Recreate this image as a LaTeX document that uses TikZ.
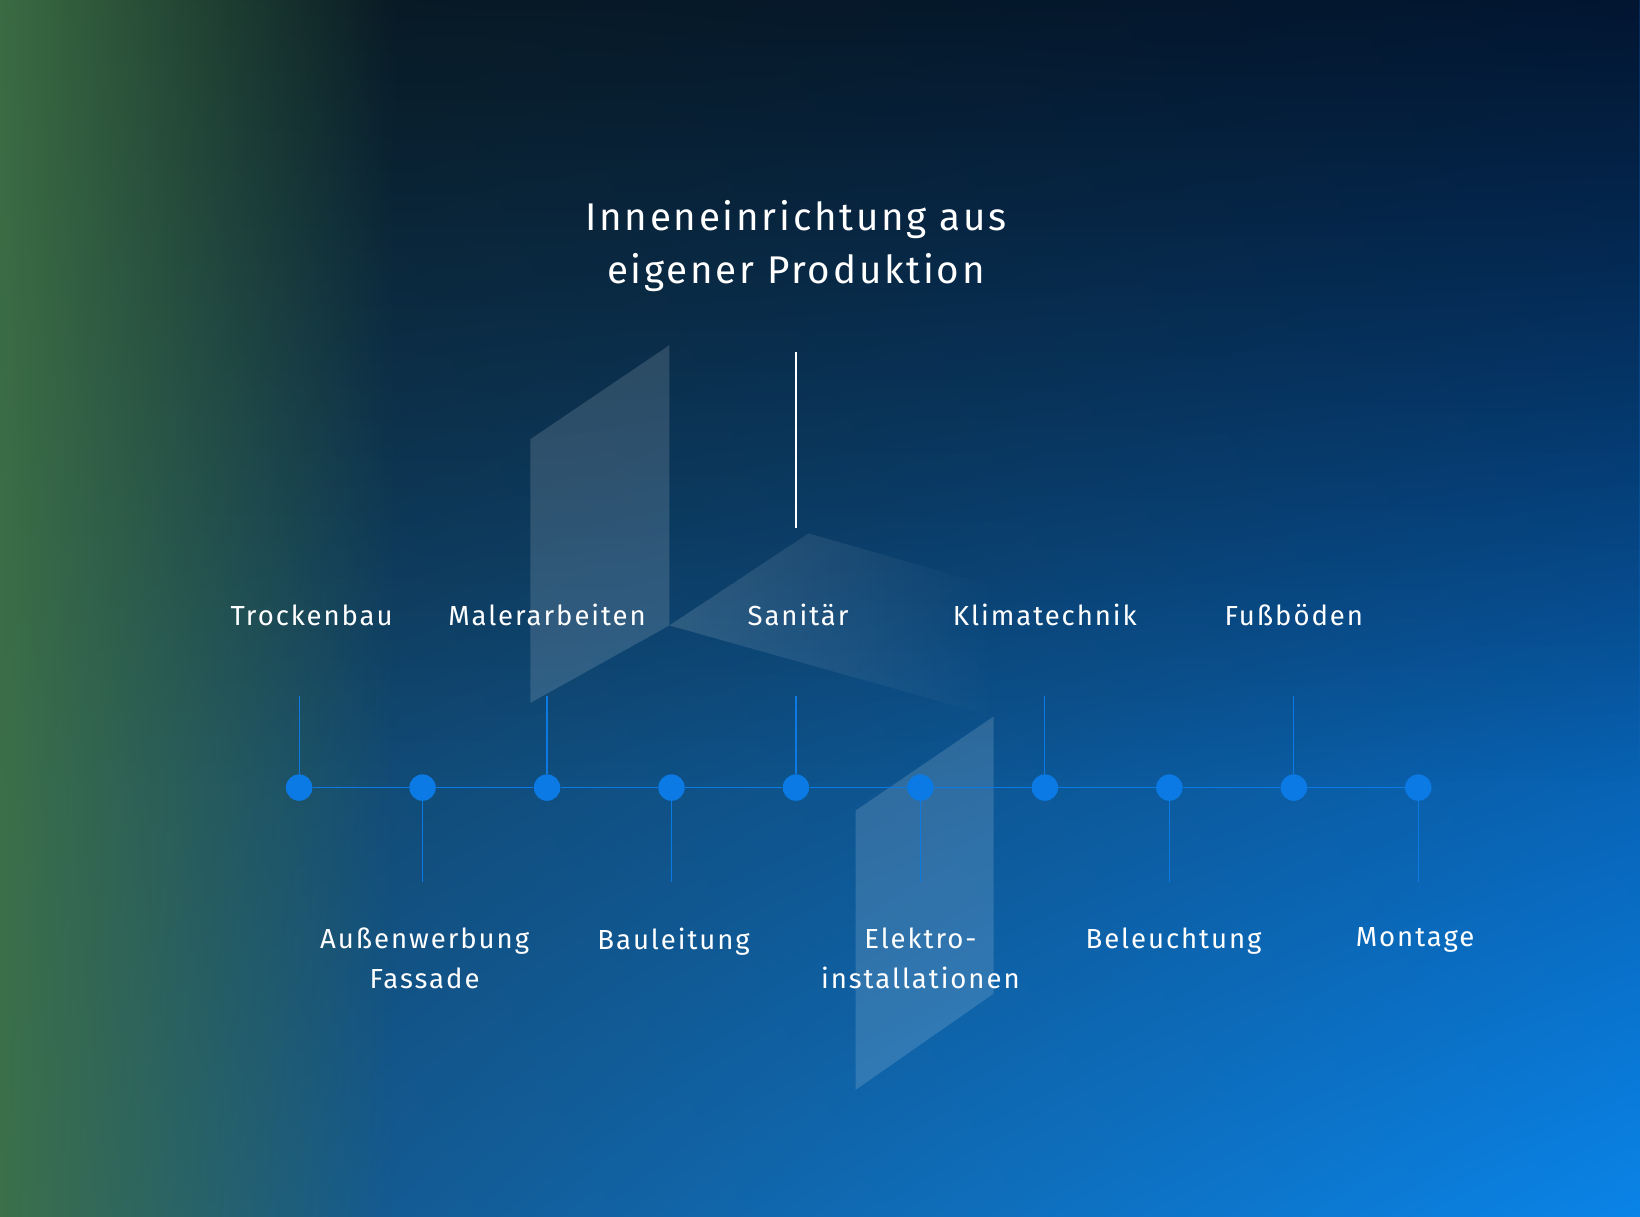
\documentclass[tikz,border=0pt]{standalone}
\usepackage{fontspec}
\setmainfont{Fira Sans}[LetterSpace=7]
\usetikzlibrary{fadings,shadings}
\definecolor{ul}{RGB}{18,50,62}
\definecolor{ur}{RGB}{4,40,90}
\definecolor{ll}{RGB}{22,78,122}
\definecolor{lr}{RGB}{10,132,232}
\definecolor{grn}{RGB}{64,116,70}
\definecolor{dotc}{RGB}{12,122,228}
\tikzfading[name=fadeR, left color=transparent!0, right color=transparent!100]
\tikzfading[name=fadeD, top color=transparent!0, bottom color=transparent!100]
\tikzset{
  panel/.style={fill=white, fill opacity=0.14, draw=none},
  dotn/.style={circle, fill=dotc, minimum size=24pt*0.6, inner sep=0pt},
  tick/.style={draw=dotc, line width=0.6pt},
  lab/.style={text=white, font=\fontsize{15}{21.5}\selectfont, align=center},
  ttl/.style={text=white, font=\fontsize{21}{29}\selectfont, align=center}
}
\begin{document}
\begin{tikzpicture}[x=0.02cm,y=-0.02cm]
\useasboundingbox (0,0) rectangle (1568,1163);
\shade[upper left=ul, upper right=ur, lower left=ll, lower right=lr] (0,0) rectangle (1568,1163);
\fill[black, opacity=0.45, path fading=fadeD, fit fading=true] (0,0) rectangle (1568,750);
\fill[grn, opacity=0.9, path fading=fadeR, fit fading=true] (0,0) rectangle (380,1163);
% logo panels
\fill[panel] (507,420) -- (640,330) -- (640,598) -- (507,672) -- cycle;
\fill[panel, path fading=fadeR, fit fading=true] (640,598) -- (773,510) -- (955,562) -- (950,685) -- cycle;
\fill[panel] (818,775) -- (950,685) -- (950,950) -- (818,1042) -- cycle;
% title
\node[ttl] (title) at (761,235) {Inneneinrichtung aus\\eigener Produktion};
\coordinate (vt) at (761,337);
\coordinate (vb) at (761,505);
\draw[white, line width=0.8pt] (vt) -- (vb);
% timeline
\foreach \i/\x in {1/286,2/404,3/523,4/642,5/761,6/880,7/999,8/1118,9/1237,10/1356}{
  \node[dotn] (d\i) at (\x,753) {};
}
\draw[tick] (d1) -- (d2) -- (d3) -- (d4) -- (d5) -- (d6) -- (d7) -- (d8) -- (d9) -- (d10);
\foreach \i/\x in {1/286,3/523,5/761,7/999,9/1237}{
  \coordinate (u\i) at (\x,665);
  \draw[tick] (u\i) -- (d\i);
}
\foreach \i/\x in {2/404,4/642,6/880,8/1118,10/1356}{
  \coordinate (b\i) at (\x,843);
  \draw[tick] (d\i) -- (b\i);
}
\node[lab] (l1) at (298,588) {Trockenbau};
\node[lab] (l3) at (523,588) {Malerarbeiten};
\node[lab] (l5) at (763,588) {Sanitär};
\node[lab] (l7) at (999,588) {Klimatechnik};
\node[lab] (l9) at (1237,588) {Fußböden};
\node[lab, anchor=north] (l2) at (406,881) {Außenwerbung\\Fassade};
\node[lab, anchor=north] (l4) at (644,881) {Bauleitung};
\node[lab, anchor=north] (l6) at (880,881) {Elektro-\\installationen};
\node[lab, anchor=north] (l8) at (1122,881) {Beleuchtung};
\node[lab, anchor=north] (l10) at (1353,881) {Montage};
\end{tikzpicture}
\end{document}
